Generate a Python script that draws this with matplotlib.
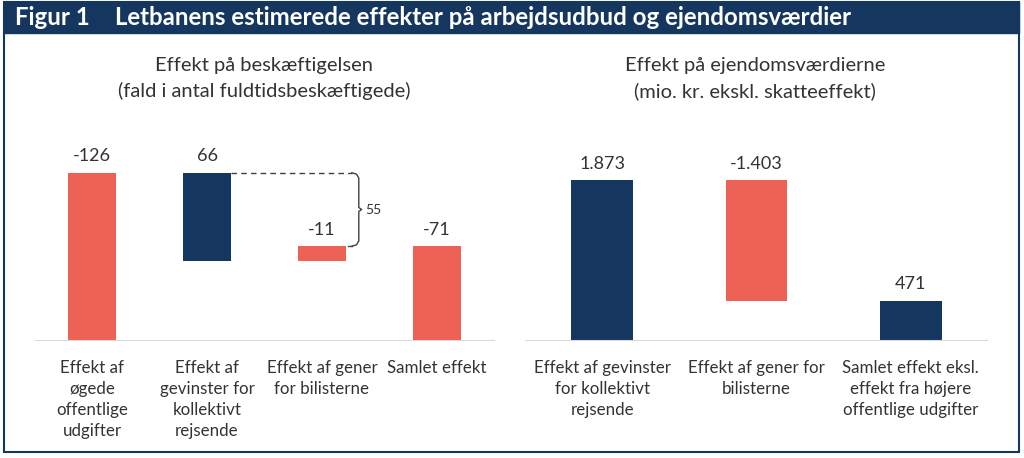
import numpy as np
import matplotlib
matplotlib.use('Agg')
import matplotlib.pyplot as plt
from matplotlib.patches import Rectangle

plt.rcParams['font.family'] = ['Lato', 'DejaVu Sans']

# Data
beskaeft_labels = ['Effekt af\nøgede\noffentlige\nudgifter', 'Effekt af\ngevinster for\nkollektivt\nrejsende',
                   'Effekt af gener\nfor bilisterne', 'Samlet effekt']
beskaeft_values = [-126, 66, -11, -71]
beskaeft_total = [False, False, False, True]

ejendom_labels = ['Effekt af gevinster\nfor kollektivt\nrejsende', 'Effekt af gener for\nbilisterne',
                  'Samlet effekt eksl.\neffekt fra højere\noffentlige udgifter']
ejendom_values = [1873, -1403, 471]
ejendom_total = [False, False, True]

RED = '#EE6155'
NAVY = '#15365F'
TXT = '#333333'
W, H = 1024, 458


def px_axes(fig, x0, x1, y0, y1):
    # pixel box (top-left origin) -> axes
    return fig.add_axes([x0 / W, (H - y1) / H, (x1 - x0) / W, (y1 - y0) / H])


def waterfall(ax, values, totals, sign, width, fmt):
    '''sign=-1 plotter fald som positive'''
    level = 0
    tops = []
    for i, (v, tot) in enumerate(zip(values, totals)):
        v2 = sign * v
        if tot:
            bottom, top = 0, v2
        else:
            new = level + v2
            bottom, top = min(level, new), max(level, new)
            level = new
        color = RED if v < 0 else NAVY
        ax.bar(i, top - bottom, bottom=bottom, width=width, color=color, zorder=2)
        ax.annotate(fmt(v), (i, top), xytext=(0, 6), textcoords='offset points',
                    ha='center', va='bottom', fontsize=13, color=TXT)
        tops.append((bottom, top))
    return tops


def style(ax, n, labels):
    ax.set_xlim(-0.5, n - 0.5)
    ax.axhline(0, color='#d9d9d9', lw=1.5, zorder=3)
    for s in ax.spines.values():
        s.set_visible(False)
    ax.set_xticks([])
    ax.set_yticks([])
    for i, lab in enumerate(labels):
        ax.annotate(lab, (i, 0), xytext=(0, -14), textcoords='offset points',
                    ha='center', va='top', fontsize=12.2, color=TXT, linespacing=1.37)


def dk(v):
    return f'{v:,}'.replace(',', '.')


fig = plt.figure(figsize=(W / 100, H / 100), dpi=100)

# ramme og titelbjælke
fig.patches.append(Rectangle((4 / W, (H - 452) / H), 1015 / W, 450 / H, transform=fig.transFigure,
                             fill=False, edgecolor=NAVY, lw=1.5))
fig.patches.append(Rectangle((4 / W, (H - 33) / H), 1015 / W, 31 / H, transform=fig.transFigure,
                             facecolor=NAVY, edgecolor=NAVY))
fig.text(15 / W, 1 - 17.5 / H, 'Figur 1', color='white', fontsize=17.3, fontweight='bold',
         va='center', ha='left')
fig.text(115 / W, 1 - 17.5 / H, 'Letbanens estimerede effekter på arbejdsudbud og ejendomsværdier',
         color='white', fontsize=17.3, fontweight='bold', va='center', ha='left')

# undertitler
fig.text(264 / W, 1 - 65 / H, 'Effekt på beskæftigelsen', ha='center', va='center', fontsize=14.5, color=TXT)
fig.text(264 / W, 1 - 91 / H, '(fald i antal fuldtidsbeskæftigede)', ha='center', va='center', fontsize=14.5, color=TXT)
fig.text(755 / W, 1 - 65 / H, 'Effekt på ejendomsværdierne', ha='center', va='center', fontsize=14.5, color=TXT)
fig.text(755 / W, 1 - 91 / H, '(mio. kr. ekskl. skatteeffekt)', ha='center', va='center', fontsize=14.5, color=TXT)

# venstre panel
ax1 = px_axes(fig, 34.5, 494.5, 120, 341)
ax1.set_ylim(0, 221 / 1.335)
bw1 = 0.42
tops1 = waterfall(ax1, beskaeft_values, beskaeft_total, -1, bw1, lambda v: str(v))
style(ax1, len(beskaeft_values), beskaeft_labels)

# klamme mellem gevinst-søjlen og samlet niveau
y_hi = tops1[1][1]
y_lo = tops1[2][1]
ax1.plot([1 + bw1 / 2, 2.26], [y_hi, y_hi], color='#404040', lw=1, ls=(0, (4, 3)))
ax1.plot([2 + bw1 / 2 + 0.02, 2.26], [y_lo, y_lo], color='#404040', lw=1)
ym = (y_hi + y_lo) / 2
bx = 2.32
ax1.plot([2.26, bx - 0.02, bx, bx, bx + 0.025, bx, bx, bx - 0.02, 2.26],
         [y_hi, y_hi - 1, y_hi - 4, ym + 1.5, ym, ym - 1.5, y_lo + 4, y_lo + 1, y_lo],
         color='#404040', lw=1)
ax1.text(bx + 0.06, ym, str(int(y_hi - y_lo)), va='center', ha='left', fontsize=10, color=TXT)

# højre panel
ax2 = px_axes(fig, 525, 988, 120, 341)
ax2.set_ylim(0, 221 / 0.08596)
waterfall(ax2, ejendom_values, ejendom_total, 1, 0.40, dk)
style(ax2, len(ejendom_values), ejendom_labels)

fig.savefig('out.png', dpi=100)
